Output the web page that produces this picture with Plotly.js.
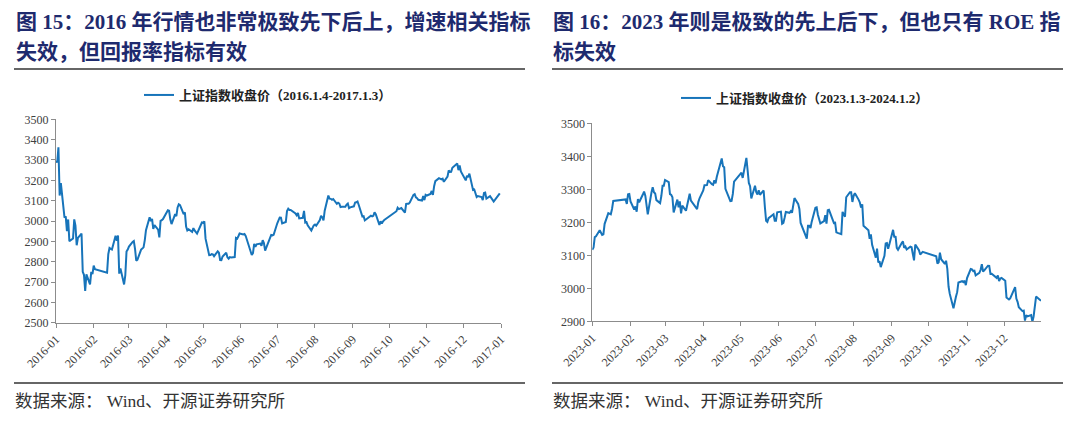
<!DOCTYPE html>
<html><head><meta charset="utf-8">
<script src="https://cdn.plot.ly/plotly-3.0.1.min.js"></script>
<style>html,body{margin:0;padding:0;background:#fff;}#chart{width:1080px;height:430px;}</style>
</head><body><div id="chart"></div>
<script>
// ---- Data: 上证指数收盘价 2016.1.4-2017.1.3 ----
const dates2016 = ["2016-01-04","2016-01-05","2016-01-06","2016-01-07","2016-01-08","2016-01-11","2016-01-12","2016-01-13","2016-01-14","2016-01-15","2016-01-18","2016-01-19","2016-01-20","2016-01-21","2016-01-22","2016-01-25","2016-01-26","2016-01-27","2016-01-28","2016-01-29",
"2016-02-01","2016-02-02","2016-02-03","2016-02-04","2016-02-05","2016-02-15","2016-02-16","2016-02-17","2016-02-18","2016-02-19","2016-02-22","2016-02-23","2016-02-24","2016-02-25","2016-02-26","2016-02-29",
"2016-03-01","2016-03-02","2016-03-03","2016-03-04","2016-03-07","2016-03-08","2016-03-09","2016-03-10","2016-03-11","2016-03-14","2016-03-15","2016-03-16","2016-03-17","2016-03-18","2016-03-21","2016-03-22","2016-03-23","2016-03-24","2016-03-25","2016-03-28","2016-03-29","2016-03-30","2016-03-31",
"2016-04-01","2016-04-05","2016-04-06","2016-04-07","2016-04-08","2016-04-11","2016-04-12","2016-04-13","2016-04-14","2016-04-15","2016-04-18","2016-04-19","2016-04-20","2016-04-21","2016-04-22","2016-04-25","2016-04-26","2016-04-27","2016-04-28","2016-04-29",
"2016-05-03","2016-05-04","2016-05-05","2016-05-06","2016-05-09","2016-05-10","2016-05-11","2016-05-12","2016-05-13","2016-05-16","2016-05-17","2016-05-18","2016-05-19","2016-05-20","2016-05-23","2016-05-24","2016-05-25","2016-05-26","2016-05-27","2016-05-30","2016-05-31",
"2016-06-01","2016-06-02","2016-06-03","2016-06-06","2016-06-07","2016-06-08","2016-06-13","2016-06-14","2016-06-15","2016-06-16","2016-06-17","2016-06-20","2016-06-21","2016-06-22","2016-06-23","2016-06-24","2016-06-27","2016-06-28","2016-06-29","2016-06-30",
"2016-07-01","2016-07-04","2016-07-05","2016-07-06","2016-07-07","2016-07-08","2016-07-11","2016-07-12","2016-07-13","2016-07-14","2016-07-15","2016-07-18","2016-07-19","2016-07-20","2016-07-21","2016-07-22","2016-07-25","2016-07-26","2016-07-27","2016-07-28","2016-07-29",
"2016-08-01","2016-08-02","2016-08-03","2016-08-04","2016-08-05","2016-08-08","2016-08-09","2016-08-10","2016-08-11","2016-08-12","2016-08-15","2016-08-16","2016-08-17","2016-08-18","2016-08-19","2016-08-22","2016-08-23","2016-08-24","2016-08-25","2016-08-26","2016-08-29","2016-08-30","2016-08-31",
"2016-09-01","2016-09-02","2016-09-05","2016-09-06","2016-09-07","2016-09-08","2016-09-09","2016-09-12","2016-09-13","2016-09-14","2016-09-19","2016-09-20","2016-09-21","2016-09-22","2016-09-23","2016-09-26","2016-09-27","2016-09-28","2016-09-29","2016-09-30",
"2016-10-10","2016-10-11","2016-10-12","2016-10-13","2016-10-14","2016-10-17","2016-10-18","2016-10-19","2016-10-20","2016-10-21","2016-10-24","2016-10-25","2016-10-26","2016-10-27","2016-10-28","2016-10-31",
"2016-11-01","2016-11-02","2016-11-03","2016-11-04","2016-11-07","2016-11-08","2016-11-09","2016-11-10","2016-11-11","2016-11-14","2016-11-15","2016-11-16","2016-11-17","2016-11-18","2016-11-21","2016-11-22","2016-11-23","2016-11-24","2016-11-25","2016-11-28","2016-11-29","2016-11-30",
"2016-12-01","2016-12-02","2016-12-05","2016-12-06","2016-12-07","2016-12-08","2016-12-09","2016-12-12","2016-12-13","2016-12-14","2016-12-15","2016-12-16","2016-12-19","2016-12-20","2016-12-21","2016-12-22","2016-12-23","2016-12-26","2016-12-27","2016-12-28","2016-12-29","2016-12-30","2017-01-03"];
const close2016 = [3296.26,3287.71,3361.84,3125.00,3186.41,3016.70,3022.86,2949.60,3007.65,2900.97,2913.84,3007.74,2976.69,2880.48,2916.56,2938.51,2749.79,2735.56,2655.66,2737.60,
2688.85,2749.57,2739.25,2781.02,2763.49,2746.20,2836.57,2867.34,2862.89,2860.02,2927.18,2903.33,2928.90,2741.25,2767.21,2687.98,
2733.17,2849.68,2859.76,2874.15,2897.34,2901.39,2862.56,2804.73,2810.31,2859.50,2864.37,2870.43,2904.83,2955.15,3018.80,2999.36,3009.96,2960.97,2979.43,2957.82,2919.83,3000.65,3003.92,
3009.53,3053.07,3050.59,3008.42,2984.96,3033.96,3023.65,3066.64,3082.36,3078.12,3033.66,3042.82,2972.58,2953.67,2959.24,2946.67,2964.70,2953.50,2945.59,2938.32,
2992.64,2991.27,2997.84,2913.25,2832.11,2832.59,2837.04,2835.86,2827.11,2850.86,2843.68,2807.51,2806.91,2825.48,2843.65,2821.67,2815.09,2822.44,2821.05,2822.45,2916.62,
2913.51,2925.23,2938.68,2934.10,2936.04,2927.16,2833.07,2842.19,2887.21,2872.82,2885.11,2888.81,2878.56,2905.55,2891.96,2854.29,2895.70,2912.56,2931.59,2929.61,
2932.48,2988.60,3006.39,3017.29,3016.85,2988.09,2994.92,3049.38,3060.69,3054.02,3054.30,3043.56,3036.60,3027.90,3039.05,3012.82,3015.83,3050.17,2992.00,2994.31,2979.34,
2953.39,2971.28,2978.46,2982.43,2976.70,3004.28,3025.68,3018.75,3002.64,3050.67,3125.20,3110.04,3109.04,3104.11,3108.10,3084.81,3089.71,3085.88,3068.32,3070.31,3070.03,3080.75,3085.49,
3063.31,3067.35,3072.10,3090.71,3091.93,3095.95,3078.85,3021.98,3023.51,3002.85,3026.05,3023.00,3025.87,3042.31,3033.90,2980.43,2998.17,2987.86,2998.48,3004.70,
3048.14,3065.25,3058.50,3061.35,3063.81,3041.17,3083.88,3084.72,3084.46,3090.94,3128.25,3131.94,3116.31,3112.35,3104.27,3100.49,
3122.44,3102.73,3128.94,3125.32,3133.33,3147.89,3128.37,3171.28,3196.04,3210.37,3206.99,3205.06,3208.45,3192.86,3218.15,3248.35,3241.14,3241.74,3261.94,3277.00,3282.92,3250.03,
3273.31,3243.84,3204.71,3199.65,3222.24,3215.37,3232.88,3152.97,3155.04,3140.53,3117.68,3122.98,3118.08,3102.88,3137.43,3139.56,3110.15,3122.57,3114.66,3102.24,3096.10,3103.64,3135.92];

// ---- Data: 上证指数收盘价 2023.1.3-2024.1.2 ----
const dates2023 = ["2023-01-03","2023-01-04","2023-01-05","2023-01-06","2023-01-09","2023-01-10","2023-01-11","2023-01-12","2023-01-13","2023-01-16","2023-01-17","2023-01-18","2023-01-19","2023-01-20","2023-01-30","2023-01-31",
"2023-02-01","2023-02-02","2023-02-03","2023-02-06","2023-02-07","2023-02-08","2023-02-09","2023-02-10","2023-02-13","2023-02-14","2023-02-15","2023-02-16","2023-02-17","2023-02-20","2023-02-21","2023-02-22","2023-02-23","2023-02-24","2023-02-27","2023-02-28",
"2023-03-01","2023-03-02","2023-03-03","2023-03-06","2023-03-07","2023-03-08","2023-03-09","2023-03-10","2023-03-13","2023-03-14","2023-03-15","2023-03-16","2023-03-17","2023-03-20","2023-03-21","2023-03-22","2023-03-23","2023-03-24","2023-03-27","2023-03-28","2023-03-29","2023-03-30","2023-03-31",
"2023-04-03","2023-04-04","2023-04-06","2023-04-07","2023-04-10","2023-04-11","2023-04-12","2023-04-13","2023-04-14","2023-04-17","2023-04-18","2023-04-19","2023-04-20","2023-04-21","2023-04-24","2023-04-25","2023-04-26","2023-04-27","2023-04-28",
"2023-05-04","2023-05-05","2023-05-08","2023-05-09","2023-05-10","2023-05-11","2023-05-12","2023-05-15","2023-05-16","2023-05-17","2023-05-18","2023-05-19","2023-05-22","2023-05-23","2023-05-24","2023-05-25","2023-05-26","2023-05-29","2023-05-30","2023-05-31",
"2023-06-01","2023-06-02","2023-06-05","2023-06-06","2023-06-07","2023-06-08","2023-06-09","2023-06-12","2023-06-13","2023-06-14","2023-06-15","2023-06-16","2023-06-19","2023-06-20","2023-06-21","2023-06-26","2023-06-27","2023-06-28","2023-06-29","2023-06-30",
"2023-07-03","2023-07-04","2023-07-05","2023-07-06","2023-07-07","2023-07-10","2023-07-11","2023-07-12","2023-07-13","2023-07-14","2023-07-17","2023-07-18","2023-07-19","2023-07-20","2023-07-21","2023-07-24","2023-07-25","2023-07-26","2023-07-27","2023-07-28","2023-07-31",
"2023-08-01","2023-08-02","2023-08-03","2023-08-04","2023-08-07","2023-08-08","2023-08-09","2023-08-10","2023-08-11","2023-08-14","2023-08-15","2023-08-16","2023-08-17","2023-08-18","2023-08-21","2023-08-22","2023-08-23","2023-08-24","2023-08-25","2023-08-28","2023-08-29","2023-08-30","2023-08-31",
"2023-09-01","2023-09-04","2023-09-05","2023-09-06","2023-09-07","2023-09-08","2023-09-11","2023-09-12","2023-09-13","2023-09-14","2023-09-15","2023-09-18","2023-09-19","2023-09-20","2023-09-21","2023-09-22","2023-09-25","2023-09-26","2023-09-27","2023-09-28",
"2023-10-09","2023-10-10","2023-10-11","2023-10-12","2023-10-13","2023-10-16","2023-10-17","2023-10-18","2023-10-19","2023-10-20","2023-10-23","2023-10-24","2023-10-25","2023-10-26","2023-10-27","2023-10-30","2023-10-31",
"2023-11-01","2023-11-02","2023-11-03","2023-11-06","2023-11-07","2023-11-08","2023-11-09","2023-11-10","2023-11-13","2023-11-14","2023-11-15","2023-11-16","2023-11-17","2023-11-20","2023-11-21","2023-11-22","2023-11-23","2023-11-24","2023-11-27","2023-11-28","2023-11-29","2023-11-30",
"2023-12-01","2023-12-04","2023-12-05","2023-12-06","2023-12-07","2023-12-08","2023-12-11","2023-12-12","2023-12-13","2023-12-14","2023-12-15","2023-12-18","2023-12-19","2023-12-20","2023-12-21","2023-12-22","2023-12-25","2023-12-26","2023-12-27","2023-12-28","2023-12-29","2024-01-02"];
const close2023 = [3116.51,3123.52,3155.22,3157.64,3176.08,3169.51,3161.84,3163.45,3195.31,3227.59,3224.41,3224.24,3240.28,3264.81,3269.32,3255.67,
3284.92,3285.67,3263.41,3238.70,3248.09,3232.11,3270.38,3260.67,3284.16,3293.28,3280.49,3249.03,3224.02,3290.34,3306.52,3291.15,3287.48,3267.16,3258.03,3279.61,
3310.65,3310.94,3328.39,3322.03,3285.10,3283.25,3276.09,3230.08,3268.70,3245.31,3263.31,3226.89,3250.55,3234.91,3255.65,3265.75,3286.65,3265.65,3251.40,3245.38,3240.06,3261.25,3272.86,
3296.40,3312.56,3312.63,3327.65,3315.36,3313.57,3327.18,3318.36,3338.15,3385.61,3393.33,3370.13,3367.03,3301.26,3275.41,3264.10,3264.87,3285.88,3323.28,
3350.46,3334.50,3395.00,3357.67,3319.15,3309.55,3272.36,3310.74,3290.99,3284.22,3297.32,3283.54,3296.47,3246.24,3204.75,3201.26,3212.50,3221.45,3224.21,3204.56,
3204.63,3230.07,3232.44,3195.34,3197.90,3213.59,3231.41,3228.83,3233.67,3228.99,3252.98,3273.33,3255.81,3240.36,3197.90,3150.62,3189.44,3189.38,3182.38,3202.06,
3243.98,3245.35,3222.95,3205.64,3196.61,3203.70,3221.37,3196.13,3236.48,3237.70,3209.63,3197.82,3198.84,3169.52,3167.75,3164.16,3231.52,3223.03,3216.67,3275.93,3291.04,
3290.95,3261.69,3280.46,3288.08,3268.83,3260.62,3244.49,3254.56,3189.25,3178.43,3176.18,3150.13,3163.74,3131.95,3092.98,3120.33,3078.40,3082.24,3064.07,3098.64,3135.89,3137.14,3119.88,
3133.25,3177.06,3154.37,3158.08,3122.35,3116.72,3137.06,3142.08,3122.66,3126.55,3117.74,3125.93,3124.23,3108.57,3084.70,3132.43,3115.61,3102.27,3107.32,3110.48,
3096.92,3075.24,3078.96,3107.90,3088.10,3073.81,3083.50,3058.71,3005.39,2983.06,2939.29,2962.24,2974.11,2988.30,3017.78,3021.55,3018.77,
3023.08,3009.41,3030.80,3058.41,3057.27,3052.37,3053.28,3038.97,3046.53,3056.07,3072.83,3050.93,3054.37,3068.32,3067.93,3043.61,3043.93,3040.97,3031.70,3038.55,3021.69,3029.67,
3031.64,3022.91,2972.30,2968.93,2966.21,2969.56,2991.44,3003.46,2968.76,2958.99,2942.56,2930.80,2932.39,2902.11,2918.72,2914.78,2918.81,2898.85,2914.61,2954.70,2974.93,2962.28];

// ---- Axis ticks ----
const ticks2016 = ["2016-01-04","2016-02-04","2016-03-04","2016-04-04","2016-05-04","2016-06-04","2016-07-04","2016-08-04","2016-09-04","2016-10-04","2016-11-04","2016-12-04","2017-01-04"];
const tickText2016 = ["2016-01","2016-02","2016-03","2016-04","2016-05","2016-06","2016-07","2016-08","2016-09","2016-10","2016-11","2016-12","2017-01"];
const ticks2023 = ["2023-01-03","2023-02-03","2023-03-03","2023-04-03","2023-05-03","2023-06-03","2023-07-03","2023-08-03","2023-09-03","2023-10-03","2023-11-03","2023-12-03"];
const tickText2023 = ["2023-01","2023-02","2023-03","2023-04","2023-05","2023-06","2023-07","2023-08","2023-09","2023-10","2023-11","2023-12"];
const name2016 = "上证指数收盘价（2016.1.4-2017.1.3）";
const name2023 = "上证指数收盘价（2023.1.3-2024.1.2）";
const title15 = ["图 15：2016 年行情也非常极致先下后上，增速相关指标", "失效，但回报率指标有效"];
const title16 = ["图 16：2023 年则是极致的先上后下，但也只有 ROE 指", "标失效"];
const sourceText = "数据来源： Wind、开源证券研究所";

const W = 1080, H = 430;
const px = x => x / W, py = y => 1 - y / H;
const LINE = "#1774ba";
const SERIF = "Liberation Serif, Times New Roman, Noto Sans CJK SC, serif";
const NAVY = "#1e2a6e";

const traces = [
  {x: dates2016, y: close2016, type: "scatter", mode: "lines", name: name2016,
   line: {color: LINE, width: 2}, xaxis: "x", yaxis: "y", legend: "legend"},
  {x: dates2023, y: close2023, type: "scatter", mode: "lines", name: name2023,
   line: {color: LINE, width: 2}, xaxis: "x2", yaxis: "y2", legend: "legend2"}
];

const axisCommon = {showgrid: false, zeroline: false, showline: true, linecolor: "#8c8c8c", linewidth: 1,
  ticks: "outside", ticklen: 4, tickcolor: "#8c8c8c", tickfont: {family: SERIF, size: 12, color: "#404040"}};

const legendCommon = {orientation: "h", xanchor: "center", yanchor: "middle", bgcolor: "rgba(0,0,0,0)",
  font: {family: SERIF, size: 13, color: "#222", weight: "bold"}, itemwidth: 30};

const ann = [];
function addText(t, x, y, size, color, bold) {
  ann.push({text: t, xref: "paper", yref: "paper", x: px(x), y: py(y), xanchor: "left", yanchor: "middle",
    showarrow: false, font: {family: SERIF, size: size, color: color, weight: bold ? "bold" : "normal"}});
}
addText(title15[0], 14, 22, 21, NAVY, true);
addText(title15[1], 14, 52, 21, NAVY, true);
addText(title16[0], 551, 22, 21, NAVY, true);
addText(title16[1], 551, 52, 21, NAVY, true);
addText(sourceText, 13, 401, 17.5, "#333", false);
addText(sourceText, 551, 401, 17.5, "#333", false);

function rule(x0, x1, y) {
  return {type: "line", xref: "paper", yref: "paper", x0: px(x0), x1: px(x1), y0: py(y), y1: py(y),
    line: {color: "#333", width: 1.5}};
}

const layout = {
  width: W, height: H, margin: {l: 0, r: 0, t: 0, b: 0},
  paper_bgcolor: "#fff", plot_bgcolor: "#fff", showlegend: true,
  xaxis: Object.assign({}, axisCommon, {domain: [px(56), px(501)], type: "date", range: ["2016-01-04", "2017-01-04"],
    tickmode: "array", tickvals: ticks2016, ticktext: tickText2016, tickangle: -45, anchor: "y"}),
  yaxis: Object.assign({}, axisCommon, {domain: [py(322.7), py(119.3)], range: [2500, 3500], dtick: 100, tick0: 2500, anchor: "x"}),
  xaxis2: Object.assign({}, axisCommon, {domain: [px(592.3), px(1041)], type: "date", range: ["2023-01-03", "2024-01-02"],
    tickmode: "array", tickvals: ticks2023, ticktext: tickText2023, tickangle: -45, anchor: "y2"}),
  yaxis2: Object.assign({}, axisCommon, {domain: [py(321.3), py(123.3)], range: [2900, 3500], dtick: 100, tick0: 2900, anchor: "x2"}),
  legend: Object.assign({}, legendCommon, {x: px(268), y: py(95)}),
  legend2: Object.assign({}, legendCommon, {x: px(805), y: py(98)}),
  annotations: ann,
  shapes: [rule(14, 525, 69), rule(552, 1063, 69), rule(14, 525, 383), rule(552, 1063, 383)]
};

Plotly.newPlot("chart", traces, layout, {staticPlot: true, displayModeBar: false});
</script>
</body></html>
